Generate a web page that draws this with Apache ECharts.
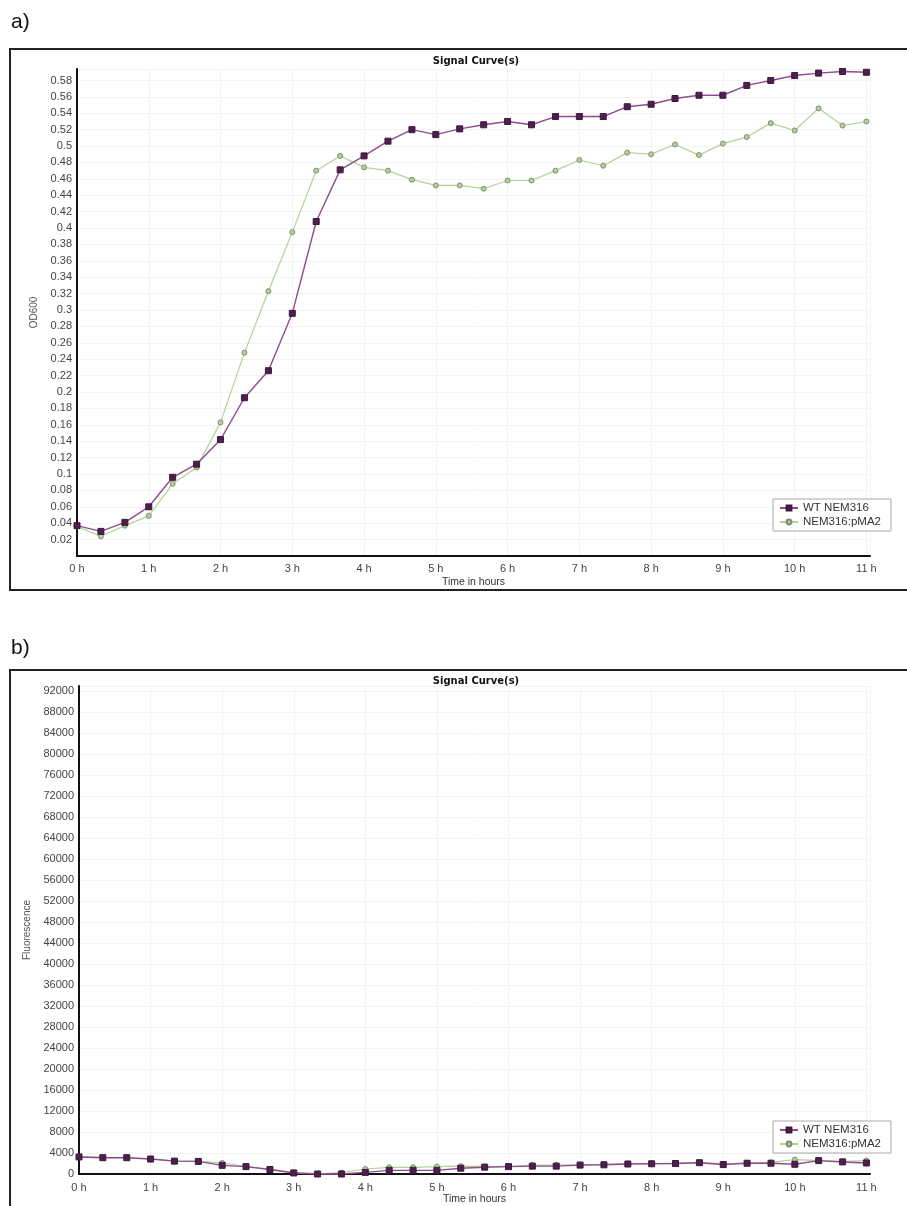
<!DOCTYPE html>
<html>
<head>
<meta charset="utf-8">
<script src="https://cdn.jsdelivr.net/npm/echarts@6/dist/echarts.min.js"></script>
<style>
html,body{margin:0;padding:0;background:#fff;}
#c{width:907px;height:1206px;}
</style>
</head>
<body>
<div id="c"></div>
<script>
// ---- data ----
var times = [0,0.333,0.667,1,1.333,1.667,2,2.333,2.667,3,3.333,3.667,4,4.333,4.667,5,5.333,5.667,6,6.333,6.667,7,7.333,7.667,8,8.333,8.667,9,9.333,9.667,10,10.333,10.667,11];
var seriesNames = ['WT NEM316', 'NEM316:pMA2'];
var odWT = [0.037,0.030,0.041,0.060,0.096,0.112,0.142,0.193,0.226,0.296,0.408,0.471,0.488,0.506,0.520,0.514,0.521,0.526,0.530,0.526,0.536,0.536,0.536,0.548,0.551,0.558,0.562,0.562,0.574,0.580,0.586,0.589,0.591,0.590];
var odPM = [0.036,0.024,0.037,0.049,0.088,0.108,0.163,0.248,0.323,0.395,0.470,0.488,0.474,0.470,0.459,0.452,0.452,0.448,0.458,0.458,0.470,0.483,0.476,0.492,0.490,0.502,0.489,0.503,0.511,0.528,0.519,0.546,0.525,0.530];
var fluWT = [3250,3100,3100,2850,2450,2400,1650,1400,850,200,0,0,300,700,700,700,1100,1300,1400,1500,1500,1700,1750,1900,1950,2000,2150,1800,2050,2050,1850,2550,2300,2100];
var fluPM = [3300,3150,3100,2900,2500,2450,2100,1450,900,300,50,270,950,1280,1280,1400,1500,1450,1450,1700,1700,1800,1850,2000,2000,2100,2200,1950,2100,2200,2750,2550,2400,2550];
var panelLabels = ['a)', 'b)'];
var chartTitle = 'Signal Curve(s)';
var xName = 'Time in hours';
var yNames = ['OD600', 'Fluorescence'];

function pairs(xs, ys){ return xs.map(function(x,i){ return [x, ys[i]]; }); }

var FONT = 'Liberation Sans, Arial, sans-serif';
var purpleLine = '#914a91', purpleMark = '#4e1f4e';
var greenLine = '#b0d593', greenMark = '#b3cf9c';

function mkSeries(name, xi, data, isWT){
  return {
    name: name, type: 'line', xAxisIndex: xi, yAxisIndex: xi,
    data: data, showAllSymbol: true, clip: false,
    symbol: isWT ? 'rect' : 'circle',
    symbolSize: isWT ? 6 : 5,
    lineStyle: { color: isWT ? purpleLine : greenLine, width: isWT ? 1.4 : 1.2 },
    itemStyle: { color: isWT ? purpleMark : greenMark, borderColor: isWT ? '#3a1a3a' : '#7d8f72', borderWidth: 1 },
    emphasis: { disabled: true },
    z: isWT ? 3 : 2
  };
}

function xAxisCfg(gi, gap, margin){
  return {
    type: 'value', gridIndex: gi, min: 0, max: 11.05, interval: 1,
    name: xName, nameLocation: 'middle', nameGap: gap,
    nameTextStyle: { fontFamily: FONT, fontSize: 10.5, color: '#333' },
    axisLine: { show: true, onZero: false, lineStyle: { color: '#111', width: 2 } },
    axisTick: { show: false },
    axisLabel: { margin: margin, fontFamily: FONT, fontSize: 11, color: '#444',
      formatter: function(v){ return Math.abs(v - Math.round(v)) < 1e-6 ? Math.round(v) + ' h' : ''; } },
    splitLine: { show: true, lineStyle: { color: '#f3f3f3', width: 1 } }
  };
}

var option = {
  animation: false,
  backgroundColor: '#fff',
  title: [
    { text: chartTitle, left: 471, top: 51, textAlign: 'center',
      textStyle: { fontFamily: 'DejaVu Sans', fontWeight: 'bold', fontSize: 10, color: '#111' } },
    { text: chartTitle, left: 471, top: 671, textAlign: 'center',
      textStyle: { fontFamily: 'DejaVu Sans', fontWeight: 'bold', fontSize: 10, color: '#111' } }
  ],
  graphic: [
    { type: 'rect', shape: { x: 10, y: 49, width: 920, height: 541 }, style: { fill: 'none', stroke: '#222', lineWidth: 2 }, z: -1 },
    { type: 'rect', shape: { x: 10, y: 670, width: 920, height: 600 }, style: { fill: 'none', stroke: '#222', lineWidth: 2 }, z: -1 },
    { type: 'text', left: 11, top: 12, style: { text: panelLabels[0], font: '21px Liberation Sans, Arial, sans-serif', fill: '#111' } },
    { type: 'text', left: 11, top: 638, style: { text: panelLabels[1], font: '21px Liberation Sans, Arial, sans-serif', fill: '#111' } }
  ],
  legend: [
    { data: seriesNames, orient: 'vertical', left: 773, top: 499, width: 115,
      backgroundColor: '#fff', borderColor: '#aaa', borderWidth: 1, padding: [3, 10, 3, 6],
      itemGap: 2, itemWidth: 18, itemHeight: 6,
      textStyle: { fontFamily: FONT, fontSize: 11.5, color: '#333' } },
    { data: seriesNames, orient: 'vertical', left: 773, top: 1121, width: 115,
      backgroundColor: '#fff', borderColor: '#aaa', borderWidth: 1, padding: [3, 10, 3, 6],
      itemGap: 2, itemWidth: 18, itemHeight: 6,
      textStyle: { fontFamily: FONT, fontSize: 11.5, color: '#333' } }
  ],
  grid: [
    { left: 77, right: 37, top: 69, bottom: 650 },
    { left: 79, right: 37, top: 686, bottom: 31 }
  ],
  xAxis: [ xAxisCfg(0, 21, 7), xAxisCfg(1, 20, 8) ],
  yAxis: [
    { type: 'value', gridIndex: 0, min: 0, max: 0.594, interval: 0.02,
      name: yNames[0], nameLocation: 'middle', nameGap: 38,
      nameTextStyle: { fontFamily: FONT, fontSize: 10, color: '#555' },
      axisLine: { show: true, lineStyle: { color: '#111', width: 2 } },
      axisTick: { show: false },
      axisLabel: { margin: 5, fontFamily: FONT, fontSize: 11, color: '#444',
        formatter: function(v){ if (v < 0.001 || v > 0.585) return ''; return String(+v.toFixed(2)); } },
      splitLine: { show: true, lineStyle: { color: '#f3f3f3', width: 1 } } },
    { type: 'value', gridIndex: 1, min: 0, max: 93000, interval: 4000,
      name: yNames[1], nameLocation: 'middle', nameGap: 38,
      nameTextStyle: { fontFamily: FONT, fontSize: 10, color: '#555' },
      axisLine: { show: true, lineStyle: { color: '#111', width: 2 } },
      axisTick: { show: false },
      axisLabel: { margin: 5, fontFamily: FONT, fontSize: 11, color: '#444',
        formatter: function(v){ return v > 92500 ? '' : String(v); } },
      splitLine: { show: true, lineStyle: { color: '#f3f3f3', width: 1 } } }
  ],
  series: [
    mkSeries(seriesNames[0], 0, pairs(times, odWT), true),
    mkSeries(seriesNames[1], 0, pairs(times, odPM), false),
    mkSeries(seriesNames[0], 1, pairs(times, fluWT), true),
    mkSeries(seriesNames[1], 1, pairs(times, fluPM), false)
  ]
};

var chart = echarts.init(document.getElementById('c'), null, { renderer: 'canvas' });
chart.setOption(option);
</script>
</body>
</html>
